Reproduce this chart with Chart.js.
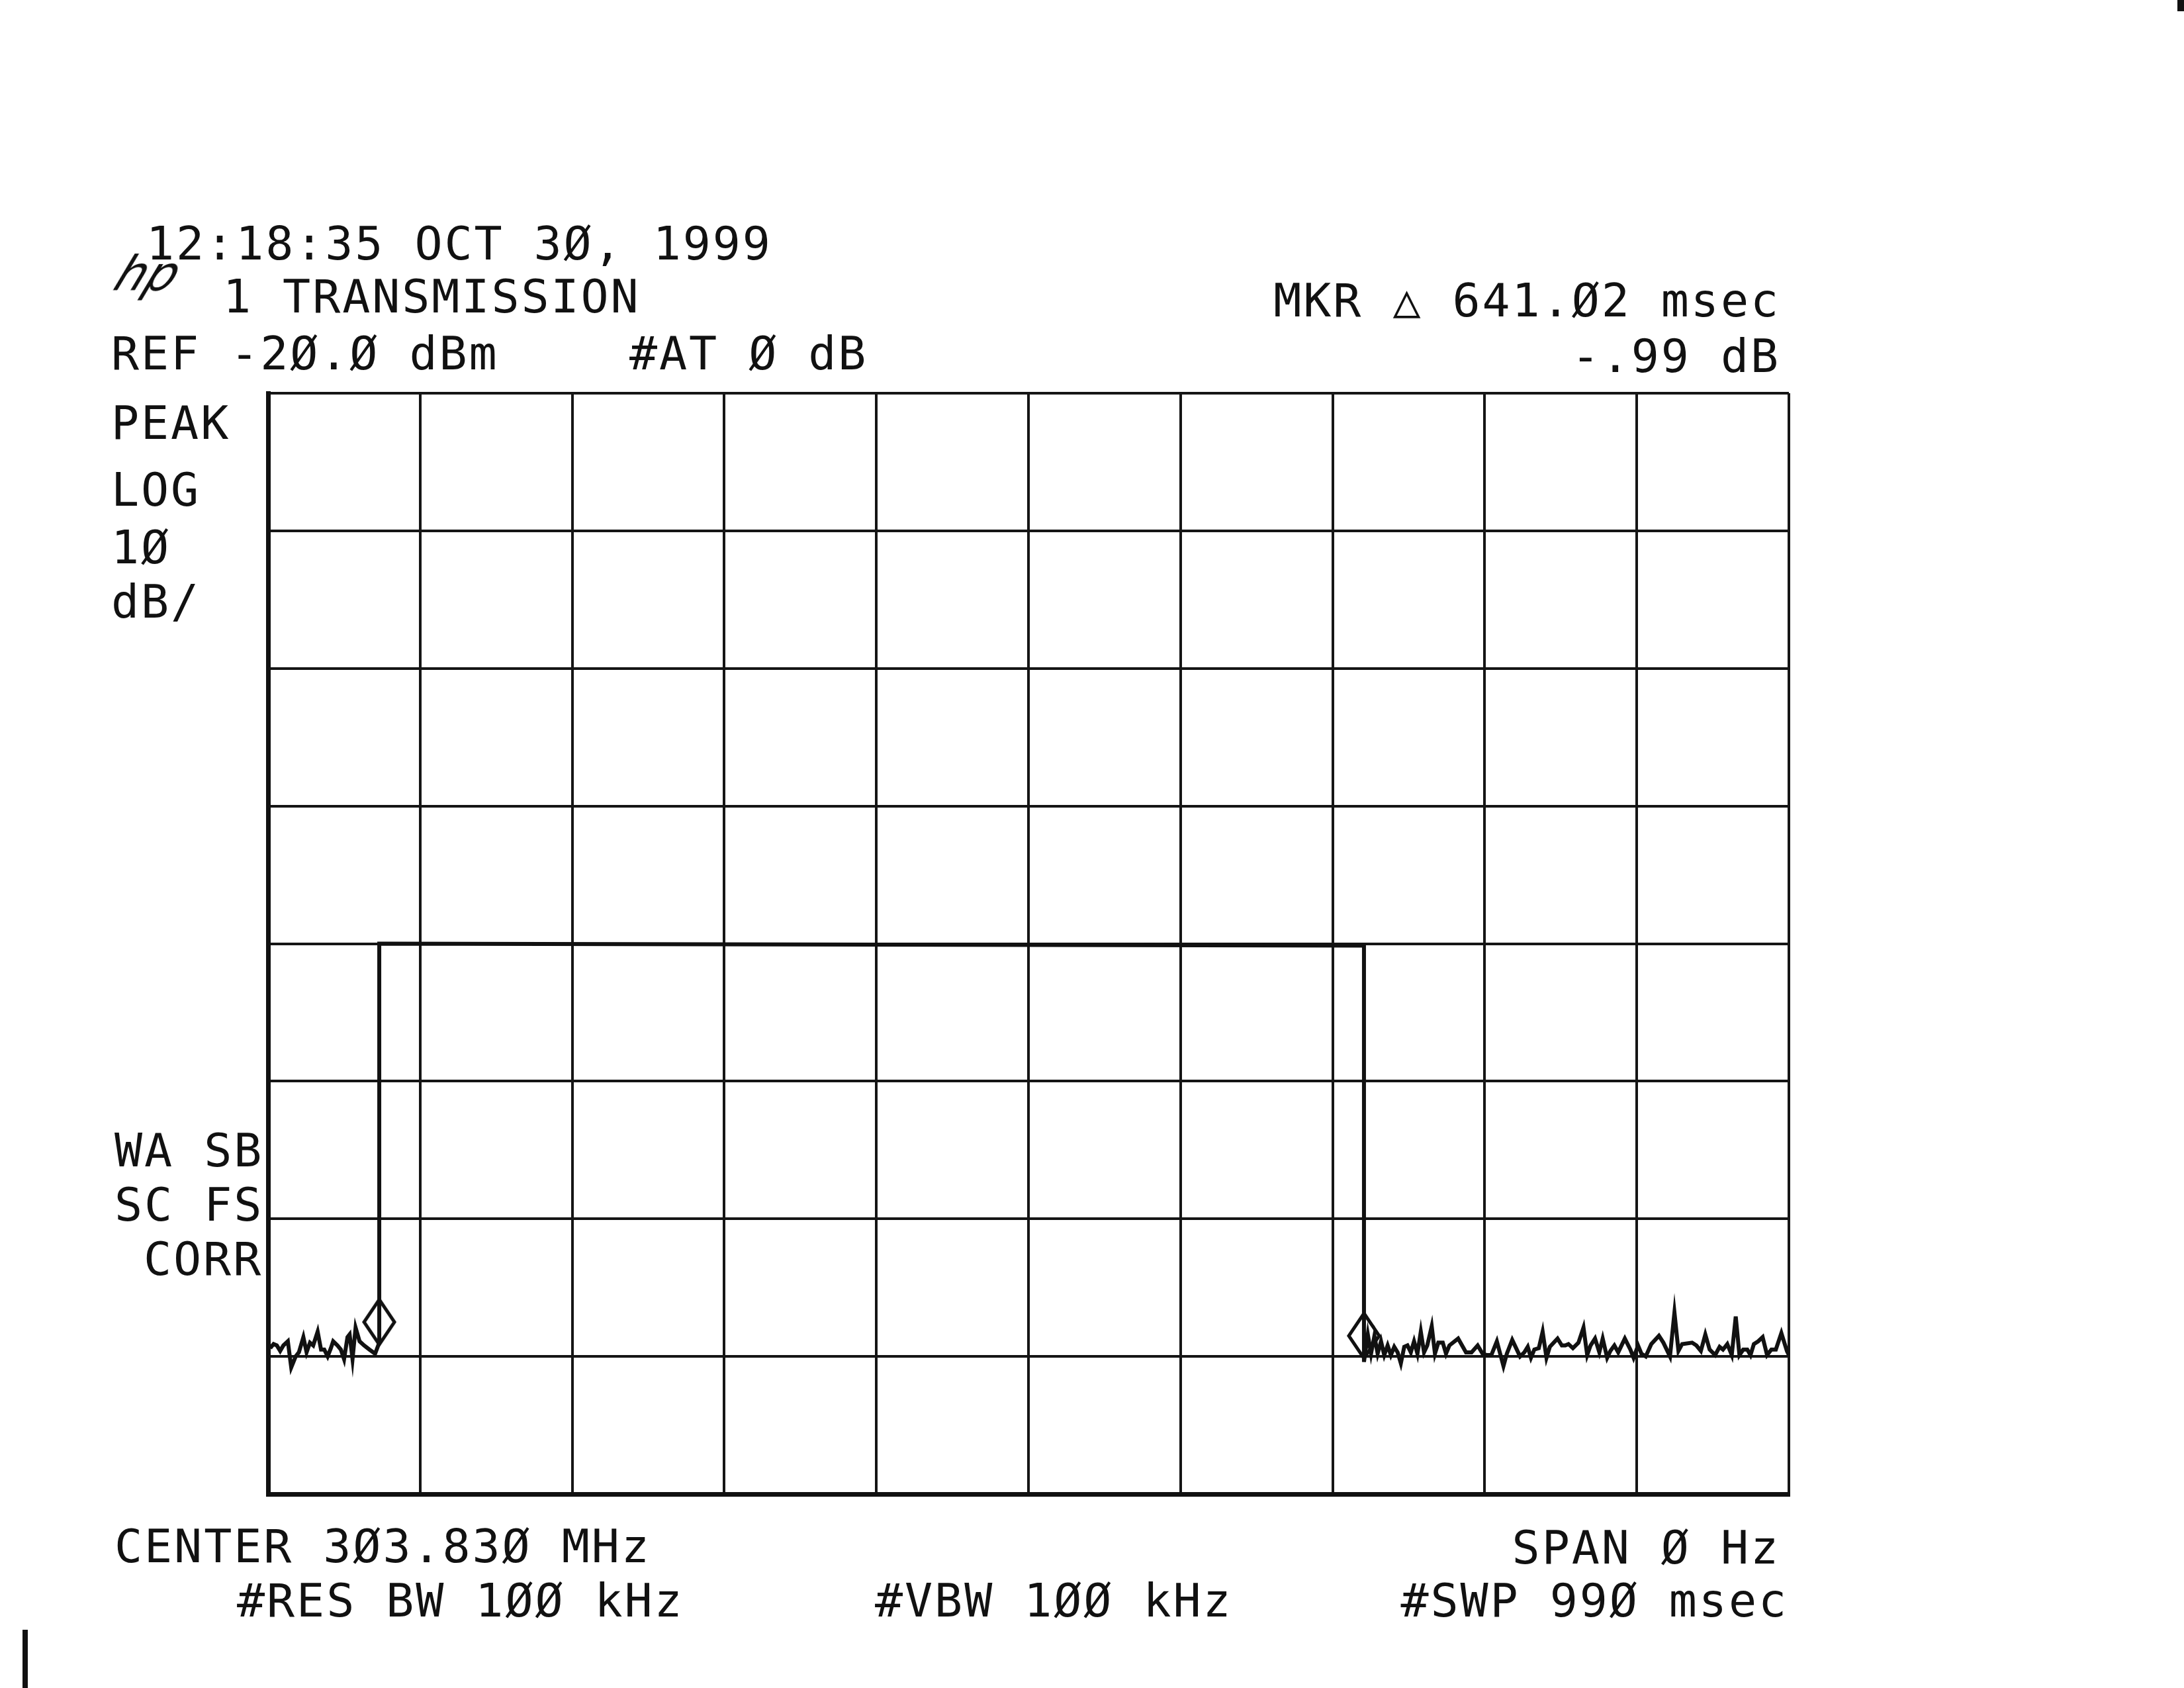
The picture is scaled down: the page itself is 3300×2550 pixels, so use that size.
<!DOCTYPE html>
<html>
<head>
<meta charset="utf-8">
<script src="https://cdn.jsdelivr.net/npm/chart.js@4/dist/chart.umd.min.js"></script>
<style>
    html, body { margin: 0; padding: 0; background: #fff; }
    #page { position: relative; width: 3300px; height: 2550px; overflow: hidden; background: #fff; }
    #chartBox { position: absolute; left: 0; top: 0; width: 3300px; height: 2550px; }
    .t {
        position: absolute;
        font-family: 'DejaVu Sans Mono', monospace;
        font-size: 70px;
        line-height: 70px;
        letter-spacing: 2.9px;
        color: #111;
        white-space: pre;
    }
    .hp {
        position: absolute;
        font-family: 'DejaVu Sans', sans-serif;
        font-style: italic;
        font-size: 72px;
        line-height: 72px;
        color: #111;
        transform: skewX(-22deg);
    }
    .mark { position: absolute; background: #111; }
</style>
</head>
<body>
<div id="page">
    <div id="chartBox"><canvas id="saChart"></canvas></div>

    <div class="t" style="left:221px; top:333px;">12:18:35 OCT 3Ø, 1999</div>
    <div class="hp" style="left:178px; top:378px;">hp</div>
    <div class="t" style="left:337px; top:413px;">1 TRANSMISSION</div>
    <div class="t" style="left:168px; top:499px;">REF -2Ø.Ø dBm</div>
    <div class="t" style="left:951px; top:499px;">#AT Ø dB</div>
    <div class="t" style="right:610px; top:419px;">MKR △ 641.Ø2 msec</div>
    <div class="t" style="right:610px; top:503px;">-.99 dB</div>

    <div class="t" style="left:168px; top:604px;">PEAK</div>
    <div class="t" style="left:168px; top:705px;">LOG</div>
    <div class="t" style="left:168px; top:792px;">1Ø</div>
    <div class="t" style="left:168px; top:874px;">dB/</div>

    <div class="t" style="left:173px; top:1703px;">WA SB</div>
    <div class="t" style="left:173px; top:1785px;">SC FS</div>
    <div class="t" style="left:217px; top:1867px;">CORR</div>

    <div class="t" style="left:173px; top:2301px;">CENTER 3Ø3.83Ø MHz</div>
    <div class="t" style="right:610px; top:2303px;">SPAN Ø Hz</div>
    <div class="t" style="left:358px; top:2383px;">#RES BW 1ØØ kHz</div>
    <div class="t" style="left:1322px; top:2383px;">#VBW 1ØØ kHz</div>
    <div class="t" style="right:598px; top:2383px;">#SWP 99Ø msec</div>

    <!-- scan edge marks -->
    <div class="mark" style="left:34px; top:2462px; width:8px; height:88px;"></div>
    <div class="mark" style="left:3290px; top:0px; width:10px; height:17px;"></div>
</div>

<script>
// sweep time (ms) and trace level (dBm)
const sweepMs = [
    1.4, 3.6, 5.7, 7.9, 10.0, 12.9, 15.1, 18.0, 20.1, 23.0,
    25.1, 27.3, 29.4, 32.3, 34.5, 36.6, 38.8, 40.9, 42.4, 45.2,
    47.4, 49.5, 51.7, 53.1, 55.0, 57.0, 59.6, 62.5, 66.0, 69.7,
    72.4, 72.4, 713.4, 713.4,
    715.9, 718.0, 720.2, 722.3, 724.5, 726.6, 728.8, 730.9, 733.1, 735.3,
    737.4, 739.6, 741.7, 743.9, 746.0, 748.2, 750.4, 752.5, 754.6, 757.5,
    759.6, 761.8, 764.7, 766.8, 769.0, 774.7, 779.8, 783.4, 787.4, 790.6,
    793.4, 796.3, 799.9, 804.2, 806.4, 809.9, 815.0, 817.8, 820.0, 822.1,
    824.3, 827.2, 829.7, 832.2, 834.4, 839.4, 842.2, 844.4, 846.5, 849.4,
    853.0, 856.3, 858.7, 860.9, 863.8, 866.6, 868.8, 871.7, 873.8, 876.4,
    878.9, 883.2, 886.8, 888.9, 891.8, 894.0, 896.8, 900.4, 905.4, 908.3,
    912.6, 915.5, 918.1, 920.5, 927.0, 929.8, 932.7, 935.6, 938.4, 942.0,
    944.9, 947.1, 949.9, 952.8, 955.4, 957.8, 960.3, 962.9, 965.0, 967.2,
    970.0, 972.9, 975.8, 978.6, 981.5, 985.1, 988.7, 990.0
];
const levelDbm = [
    -89.4, -89.1, -89.2, -89.6, -89.2, -88.9, -90.8, -90.0, -89.7, -88.6,
    -89.7, -89.0, -89.2, -88.2, -89.5, -89.5, -90.0, -89.4, -88.9, -89.2,
    -89.5, -90.2, -88.6, -88.4, -90.2, -87.9, -88.9, -89.2, -89.5, -89.8,
    -89.0, -60.0, -60.15, -90.4,
    -88.4, -89.8, -88.5, -89.8, -88.9, -89.9, -89.2, -89.9, -89.3, -89.7,
    -90.5, -89.3, -89.2, -89.7, -88.9, -89.8, -88.2, -89.7, -89.2, -87.8,
    -89.8, -89.0, -89.0, -89.8, -89.2, -88.7, -89.7, -89.7, -89.2, -89.8,
    -89.9, -89.9, -88.9, -90.7, -89.8, -88.8, -90.0, -89.7, -89.3, -90.1,
    -89.5, -89.4, -88.2, -90.1, -89.3, -88.7, -89.2, -89.2, -89.1, -89.4,
    -89.0, -87.9, -89.9, -89.2, -88.7, -89.7, -88.7, -90.1, -89.6, -89.2,
    -89.7, -88.7, -89.5, -90.1, -89.2, -89.8, -90.0, -89.1, -88.5, -89.0,
    -90.0, -86.8, -89.6, -89.1, -89.0, -89.2, -89.6, -88.4, -89.5, -89.9,
    -89.3, -89.5, -89.1, -89.9, -87.1, -89.9, -89.5, -89.5, -89.9, -89.1,
    -88.9, -88.6, -89.9, -89.5, -89.5, -88.3, -89.6, -89.9
];

// marker 1 and delta marker
const markerMs = [72.4, 713.4];
const markerDbm = [-87.5, -88.5];

// screen: 0..990 ms (10 div), REF -20 dBm, 10 dB/div, 8 div
const sweepTicksMs = [0, 99, 198, 297, 396, 495, 594, 693, 792, 891, 990];
const refLevel = -20;
const dbPerDiv = 10;
const yDivs = 8;

function diamondMarker(w, h) {
    const c = document.createElement('canvas');
    c.width = w;
    c.height = h;
    const g = c.getContext('2d');
    g.strokeStyle = '#111';
    g.lineWidth = 5;
    g.beginPath();
    g.moveTo(w / 2, 3);
    g.lineTo(w - 3, h / 2);
    g.lineTo(w / 2, h - 3);
    g.lineTo(3, h / 2);
    g.closePath();
    g.stroke();
    return c;
}

const tracePoints = sweepMs.map((t, i) => ({ x: t, y: levelDbm[i] }));
const markerPoints = markerMs.map((t, i) => ({ x: t, y: markerDbm[i] }));

const ctx = document.getElementById('saChart').getContext('2d');
new Chart(ctx, {
    type: 'line',
    data: {
        datasets: [{
            label: 'Trace A',
            data: tracePoints,
            borderColor: '#111',
            borderWidth: 6,
            pointRadius: 0,
            tension: 0,
            fill: false
        }, {
            label: 'Markers',
            data: markerPoints,
            showLine: false,
            pointStyle: diamondMarker(52, 74),
            pointRadius: 26,
            borderColor: '#111'
        }]
    },
    options: {
        responsive: true,
        maintainAspectRatio: false,
        animation: false,
        layout: {
            padding: { left: 405, top: 594, right: 597, bottom: 293 }
        },
        plugins: {
            legend: { display: false },
            tooltip: { enabled: false }
        },
        scales: {
            x: {
                type: 'linear',
                min: sweepTicksMs[0],
                max: sweepTicksMs[sweepTicksMs.length - 1],
                afterBuildTicks: function(scale) {
                    scale.ticks = sweepTicksMs.map(v => ({ value: v }));
                },
                ticks: { display: false },
                grid: { color: '#151515', lineWidth: 4, drawTicks: false },
                border: { display: true, color: '#111', width: 7 }
            },
            y: {
                type: 'linear',
                min: refLevel - dbPerDiv * yDivs,
                max: refLevel,
                ticks: { display: false, stepSize: dbPerDiv },
                grid: { color: '#151515', lineWidth: 4, drawTicks: false },
                border: { display: true, color: '#111', width: 7 }
            }
        }
    }
});
</script>
</body>
</html>
